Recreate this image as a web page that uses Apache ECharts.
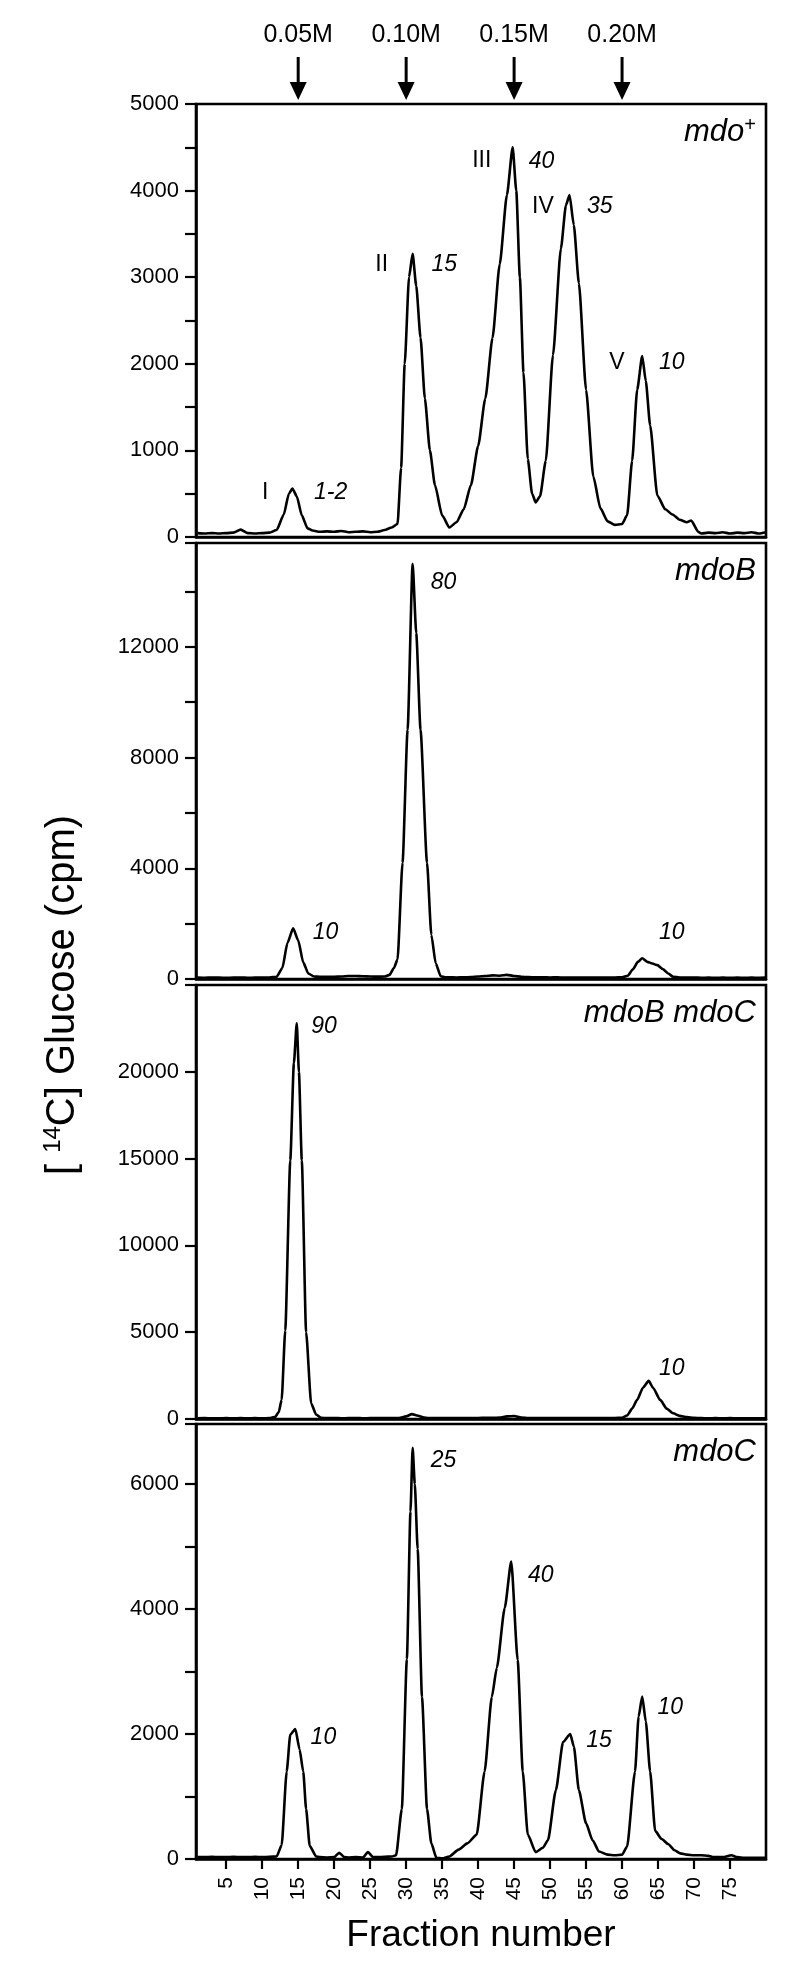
<!DOCTYPE html>
<html>
<head>
<meta charset="utf-8">
<script src="https://cdn.jsdelivr.net/npm/echarts@6/dist/echarts.min.js"></script>
<style>
html, body { margin: 0; padding: 0; background: #fff; }
#chart { width: 800px; height: 1981px; }
</style>
</head>
<body>
<div id="chart"></div>
<script>
/* [fraction, cpm]. */
var mdoPlus = [
    [1,45],[2,40],[3,45],[4,40],[5,45],[6,50],[7,85],[8,45],[9,40],[10,45],[11,50],[12,80],[13,260],[13.7,500],[14.2,560],[14.8,470],[15.5,250],[16.3,100],[17,75],
    [18,60],[19,65],[20,60],[21,70],[22,55],[23,60],[24,65],[25,55],[26,60],[27,80],[28,110],[28.8,150],[29.3,800],[29.8,2000],[30.4,3000],[30.9,3270],[31.4,2900],
    [32,2300],[32.6,1600],[33.3,1000],[34,600],[35,250],[36,110],[37,170],[38,320],[39,600],[40,1050],[41,1600],[42,2300],[43,3150],[44,3950],[44.8,4500],[45.3,4000],
    [45.8,3000],[46.3,1900],[46.9,900],[47.5,500],[48,400],[48.6,470],[49.4,880],[50.4,2100],[51.5,3330],[52.2,3830],[52.7,3950],[53.3,3600],[54,2930],[55,1700],
    [56,700],[57,330],[58,180],[59,140],[60,150],[60.7,250],[61.4,880],[62.1,1700],[62.8,2090],[63.3,1800],[63.9,1290],[64.9,480],[66,320],[67,260],[68,200],[69,170],
    [69.6,190],[70.6,60],[71,40],[72,50],[73,45],[74,55],[75,40],[76,50],[77,45],[78,55],[79,40],[80,55]
];
var mdoB = [
    [1,50],[2,45],[3,55],[4,50],[5,45],[6,50],[7,55],[8,45],[9,50],[10,50],[11,55],[12,80],[12.8,400],[13.5,1300],[14.3,1830],[15,1400],[15.7,600],[16.4,200],[17.2,90],
    [18,80],[19,75],[20,80],[21,90],[22,110],[23,110],[24,100],[25,90],[26,85],[27,90],[27.7,150],[28.3,400],[28.8,700],[29.5,4200],[30.2,9000],[30.9,15000],[31.4,12500],
    [32,9000],[32.9,4200],[33.5,1600],[34.1,570],[34.8,100],[35.5,60],[36,60],[37,55],[38,60],[39,70],[40,90],[41,110],[42,130],[43,120],[44,150],[45,110],[46,80],
    [47,70],[48,60],[49,65],[50,55],[51,60],[52,50],[53,55],[54,50],[55,55],[56,50],[57,55],[58,50],[59,55],[60,60],[60.8,120],[61.5,350],[62.2,620],[62.8,750],
    [63.5,620],[64.2,560],[64.9,500],[65.7,350],[66.4,200],[67.1,80],[68,55],[69,50],[70,55],[71,45],[72,50],[73,45],[74,50],[75,45],[76,50],[77,45],[78,50],[79,45],[80,50]
];
var mdoBmdoC = [
    [1,40],[2,50],[3,45],[4,40],[5,50],[6,45],[7,50],[8,40],[9,50],[10,45],[11,50],[11.8,120],[12.3,400],[12.7,1100],[13.2,5100],[13.9,14900],[14.4,20500],[14.8,22800],
    [15.1,20000],[15.5,14900],[16.1,5000],[16.8,900],[17.5,250],[18.2,70],[19,50],[20,55],[21,45],[22,50],[23,55],[24,45],[25,50],[26,55],[27,50],[28,55],[29,60],
    [30,150],[30.8,280],[31.5,200],[32.5,80],[33,60],[34,55],[35,60],[36,50],[37,55],[38,60],[39,55],[40,60],[41,70],[42,65],[43,80],[44,150],[45,170],[46,80],[47,60],
    [48,55],[49,60],[50,55],[51,50],[52,55],[53,50],[54,55],[55,50],[56,55],[57,50],[58,55],[59,60],[60,70],[60.7,200],[61.4,600],[62.1,1100],[62.9,1800],[63.7,2200],
    [64.3,1800],[65.3,1100],[66.2,600],[67.1,330],[68,180],[69,110],[70,70],[71,50],[72,45],[73,50],[74,45],[75,50],[76,45],[77,40],[78,45],[79,40],[80,45]
];
var mdoC = [
    [1,30],[2,30],[3,35],[4,30],[5,30],[6,35],[7,30],[8,30],[9,35],[10,30],[11,35],[12,40],[12.7,220],[13.4,1400],[13.9,1990],[14.6,2080],[15.2,1750],[15.7,1400],
    [16.1,800],[16.6,210],[17.5,40],[18,30],[19,25],[20,30],[20.7,100],[21.4,30],[22,25],[23,30],[24,25],[24.7,110],[25.4,30],[26,30],[27,35],[28,40],[28.6,60],
    [29.4,800],[30.1,3200],[30.6,5560],[30.9,6580],[31.2,6000],[31.6,4960],[32.2,2590],[32.9,800],[33.5,250],[34.2,20],[35,10],[36,40],[37.3,150],[38.5,250],[39.8,390],
    [40.9,1400],[41.9,2590],[42.6,3060],[43.7,4020],[44.6,4760],[45.5,3180],[46.2,1400],[46.9,390],[48,110],[49,180],[49.7,300],[50.8,1100],[51.8,1870],[52.8,2000],
    [53.3,1800],[54,1100],[55,570],[55.9,300],[56.8,120],[58,70],[59,60],[60,70],[60.7,200],[61.8,1400],[62.3,2280],[62.8,2600],[63.3,2200],[63.9,1400],[64.6,450],
    [65.5,320],[66.4,240],[67.3,140],[68.1,90],[69,70],[70,60],[71,60],[72,50],[72.7,30],[73,30],[74,30],[75.2,60],[76,30],[77,20],[78,20],[79,20],[80,20]
];

/* Peak notes: [fraction, cpm, text, kind]; kind r = peak name, n = percent of total. */
var mdoPlusNotes = [
    [10.4,510,'I','r'],[19.5,510,'1-2','n'],[26.6,3150,'II','r'],[35.3,3150,'15','n'],[40.5,4340,'III','r'],[48.8,4340,'40','n'],
    [49.0,3820,'IV','r'],[56.9,3820,'35','n'],[59.3,2010,'V','r'],[66.9,2010,'10','n']
];
var mdoBNotes = [[18.8,1660,'10','n'],[35.2,14330,'80','n'],[66.9,1660,'10','n']];
var mdoBmdoCNotes = [[18.6,22600,'90','n'],[66.9,2900,'10','n']];
var mdoCNotes = [[18.5,1940,'10','n'],[35.2,6370,'25','n'],[48.7,4530,'40','n'],[56.8,1890,'15','n'],[66.7,2420,'10','n']];

var panelNames  = ['{i|mdo}{sup|+}', '{i|mdoB}', '{i|mdoB mdoC}', '{i|mdoC}'];
var yMax        = [5000, 15750, 25000, 6960];
var yStep       = [500, 2000, 5000, 1000];
var yLabelStep  = [1000, 4000, 5000, 2000];
var fractionTicks  = [5, 10, 15, 20, 25, 30, 35, 40, 45, 50, 55, 60, 65, 70, 75];
var saltLabels     = ['0.05M', '0.10M', '0.15M', '0.20M'];
var saltFractions  = [15, 30, 45, 60];

var FONT   = '"Liberation Sans", Arial, Helvetica, sans-serif';
var panels = [{top: 104, height: 433}, {top: 543, height: 436}, {top: 985, height: 434}, {top: 1424, height: 435}];
var series = [mdoPlus, mdoB, mdoBmdoC, mdoC];
var notes  = [mdoPlusNotes, mdoBNotes, mdoBmdoCNotes, mdoCNotes];

var chart = echarts.init(document.getElementById('chart'), null, {renderer: 'canvas'});

/**
 * Build grid, axes and series for every panel.
 *
 * @access public
 * @return object
 */
function buildOption()
{
    var option = {animation: false, backgroundColor: '#fff', textStyle: {fontFamily: FONT}, grid: [], xAxis: [], yAxis: [], series: []};

    panels.forEach(function(panel, i)
    {
        var last = i == panels.length - 1;
        option.grid.push({left: 196, right: 34, top: panel.top, height: panel.height, show: true, borderColor: '#000', borderWidth: 2.6, backgroundColor: 'transparent', containLabel: false});

        option.xAxis.push({
            type: 'value', gridIndex: i, min: 0.8, max: 80,
            splitLine: {show: false},
            axisLine: {show: true, onZero: false, lineStyle: {color: '#000', width: 2.6}},
            axisTick: {show: last, length: 10, customValues: fractionTicks, lineStyle: {color: '#000', width: 2.2}},
            axisLabel: {show: last, customValues: fractionTicks, rotate: 90, margin: 18, fontSize: 21, color: '#000', fontFamily: FONT}
        });

        option.yAxis.push({
            type: 'value', gridIndex: i, min: 0, max: yMax[i], interval: yStep[i],
            splitLine: {show: false},
            axisLine: {show: true, lineStyle: {color: '#000', width: 2.6}},
            axisTick: {show: true, length: 11, lineStyle: {color: '#000', width: 2.2}},
            axisLabel: {
                margin: 17, fontSize: 22, color: '#000', fontFamily: FONT, showMaxLabel: true, hideOverlap: false,
                formatter: function(v)
                {
                    if(v % yLabelStep[i] !== 0 || (v >= yMax[i] && i > 0)) return '';
                    return String(v);
                }
            }
        });

        option.series.push({
            type: 'line', xAxisIndex: i, yAxisIndex: i, data: series[i],
            showSymbol: false, smooth: 0.2, smoothMonotone: 'x',
            lineStyle: {color: '#000', width: 2.6}, z: 3
        });

        /* Peak notes: an invisible point carrying a text label. */
        option.series.push({
            type: 'scatter', xAxisIndex: i, yAxisIndex: i, data: notes[i], symbolSize: 0, silent: true,
            itemStyle: {opacity: 1, color: '#000'},
            label: {
                show: true, position: 'inside', color: '#000', textBorderWidth: 0,
                formatter: function(p) { return '{' + p.data[3] + '|' + p.data[2] + '}'; },
                rich: {
                    r: {fontSize: 23, color: '#000', textBorderWidth: 0, fontFamily: FONT},
                    n: {fontSize: 23, color: '#000', textBorderWidth: 0, fontFamily: FONT, fontStyle: 'italic'}
                }
            }
        });
    });

    return option;
}

/**
 * Decorations outside the plots: salt arrows, panel names, axis titles.
 *
 * @access public
 * @return array
 */
function buildGraphics()
{
    var items = [];

    saltFractions.forEach(function(f, k)
    {
        var x = chart.convertToPixel({xAxisIndex: 0, yAxisIndex: 0}, [f, yMax[0]])[0];
        items.push({type: 'text', style: {text: saltLabels[k], x: x, y: 35, align: 'center', verticalAlign: 'middle', font: '25px ' + FONT, fill: '#000'}});
        items.push({type: 'line', shape: {x1: x, y1: 57, x2: x, y2: 86}, style: {stroke: '#000', lineWidth: 3}});
        items.push({type: 'polygon', shape: {points: [[x - 8.5, 82], [x + 8.5, 82], [x, 100]]}, style: {fill: '#000'}});
    });

    panels.forEach(function(panel, i)
    {
        items.push({
            type: 'text',
            style: {
                text: panelNames[i], x: 756, y: panel.top + 28, align: 'right', verticalAlign: 'middle', fill: '#000',
                rich: {
                    i: {fontSize: 31, fontStyle: 'italic', fontFamily: FONT, fill: '#000'},
                    sup: {fontSize: 20, fontFamily: FONT, fill: '#000', verticalAlign: 'top', padding: [0, 0, 14, 0]}
                }
            }
        });
    });

    items.push({
        type: 'text', x: 63, y: 995, rotation: Math.PI / 2,
        style: {
            text: '[ {sup|14}C] Glucose (cpm)', align: 'center', verticalAlign: 'middle', fill: '#000',
            font: '40px ' + FONT,
            rich: {sup: {fontSize: 24, fontFamily: FONT, fill: '#000', verticalAlign: 'top', padding: [0, 0, 20, 0]}}
        }
    });

    items.push({type: 'text', style: {text: 'Fraction number', x: 481, y: 1936, align: 'center', verticalAlign: 'middle', font: '37px ' + FONT, fill: '#000'}});

    return items;
}

chart.setOption(buildOption());
chart.setOption({graphic: buildGraphics()});
</script>
</body>
</html>
